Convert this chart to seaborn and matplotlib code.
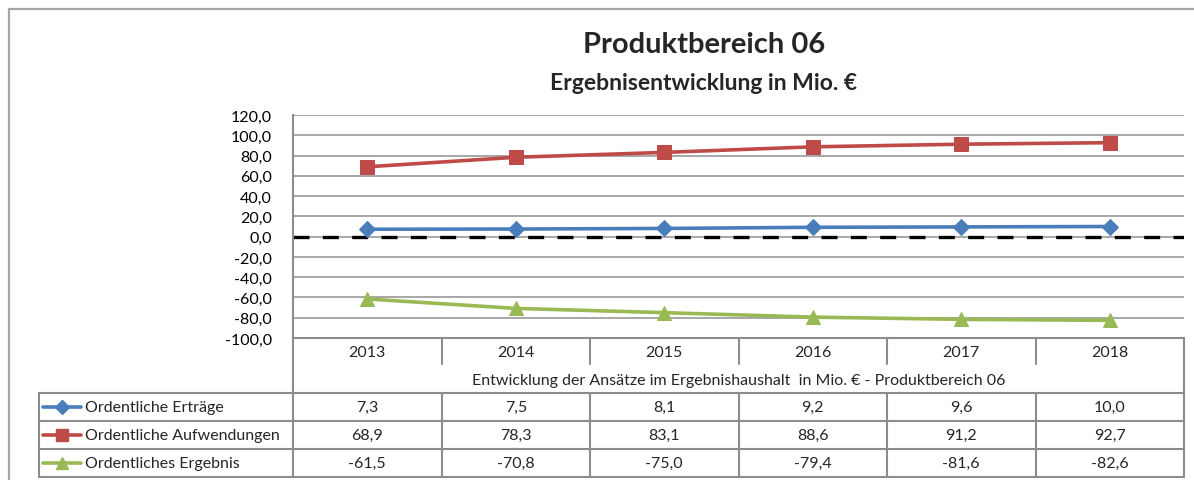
import matplotlib
matplotlib.use("Agg")
import matplotlib.pyplot as plt
import seaborn as sns
import pandas as pd
from matplotlib.ticker import FuncFormatter, MultipleLocator

years = ["2013", "2014", "2015", "2016", "2017", "2018"]
seriesNames = ["Ordentliche Erträge", "Ordentliche Aufwendungen", "Ordentliches Ergebnis"]
ertraege = [7.3, 7.5, 8.1, 9.2, 9.6, 10.0]
aufwendungen = [68.9, 78.3, 83.1, 88.6, 91.2, 92.7]
ergebnis = [-61.5, -70.8, -75.0, -79.4, -81.6, -82.6]

title = "Produktbereich 06"
subtitle = "Ergebnisentwicklung in Mio. €"
tableCaption = "Entwicklung der Ansätze im Ergebnishaushalt  in Mio. € - Produktbereich 06"

colors = ["#4A7EBB", "#BE4B48", "#98B954"]
markers = ["D", "s", "^"]
markerSizes = [8, 9.5, 10]
gridColor = "#A0A0A0"
lineGray = "#8C8C8C"
smallFont = 11.5

sns.set_style("white")
plt.rcParams["font.family"] = ["Lato", "DejaVu Sans"]

W, H = 1194, 481


def frac(x0, y0, x1, y1):
    return [x0 / W, 1 - y1 / H, (x1 - x0) / W, (y1 - y0) / H]


def fmtComma(v, _pos):
    return f"{v:.1f}".replace(".", ",")


rows = []
for name, vals in zip(seriesNames, [ertraege, aufwendungen, ergebnis]):
    for i, v in enumerate(vals):
        rows.append({"pos": i, "value": v, "series": name})
df = pd.DataFrame(rows)

fig = plt.figure(figsize=(W / 100, H / 100), dpi=100)

plotLeft, plotTop, plotRight, plotBottom = 293, 116, 1184, 339
ax = fig.add_axes(frac(plotLeft, plotTop, plotRight, plotBottom))

ax.axhline(0, color="black", lw=2.4, dashes=(4.8, 4), zorder=2)

for name, col, mk, ms in zip(seriesNames, colors, markers, markerSizes):
    sns.lineplot(
        data=df[df["series"] == name], x="pos", y="value",
        color=col, marker=mk, markersize=ms, markeredgecolor=col,
        lw=2.6, ax=ax, legend=False, zorder=3,
    )

ax.set_xlim(-0.5, len(years) - 0.5)
ax.set_ylim(-100, 120)
ax.yaxis.set_major_locator(MultipleLocator(20))
ax.yaxis.set_major_formatter(FuncFormatter(fmtComma))
ax.set_xticks([])
ax.set_xlabel("")
ax.set_ylabel("")
ax.tick_params(axis="y", labelsize=smallFont, pad=15, length=0, labelcolor="black")
ax.grid(axis="y", color=gridColor, lw=1.3, zorder=0)
ax.set_axisbelow(True)
for side in ["top", "right"]:
    ax.spines[side].set_visible(False)
for side in ["left", "bottom"]:
    ax.spines[side].set_color(lineGray)
    ax.spines[side].set_linewidth(1.5)

# overlay axes in pixel coords for frame, titles and data table
tax2 = fig.add_axes([0, 0, 1, 1], zorder=5)
tax2.set_xlim(0, W)
tax2.set_ylim(H, 0)
tax2.axis("off")
tax2.patch.set_alpha(0)

# outer chart frame
tax2.plot([9, 9], [10, H], color="#A6A6A6", lw=1.6)
tax2.plot([9, W], [10, 10], color="#A6A6A6", lw=1.6)

tax2.text(704, 45, title, ha="center", va="center", fontsize=21, fontweight="bold")
tax2.text(703, 84, subtitle, ha="center", va="center", fontsize=16.5, fontweight="bold")

colW = (plotRight - plotLeft) / len(years)
yearBottom = 365
rowEdges = [394, 422, 450, 478]
legendLeft = 39
lw = 1.5

# year row
for i, y in enumerate(years):
    tax2.text(plotLeft + colW * (i + 0.5), 353, y, ha="center", va="center", fontsize=smallFont)
for i in range(1, len(years)):
    xx = plotLeft + colW * i
    tax2.plot([xx, xx], [plotBottom, yearBottom], color=lineGray, lw=lw)
tax2.plot([plotLeft, plotLeft], [plotBottom, rowEdges[-1]], color=lineGray, lw=lw)
tax2.plot([plotRight, plotRight], [plotBottom, rowEdges[-1]], color=lineGray, lw=lw)
tax2.text((plotLeft + plotRight) / 2, 381, tableCaption, ha="center", va="center", fontsize=smallFont)

# data rows
for yy in rowEdges:
    tax2.plot([legendLeft, plotRight], [yy, yy], color=lineGray, lw=lw)
tax2.plot([legendLeft, legendLeft], [rowEdges[0], rowEdges[-1]], color=lineGray, lw=lw)
for i in range(1, len(years)):
    xx = plotLeft + colW * i
    tax2.plot([xx, xx], [rowEdges[0], rowEdges[-1]], color=lineGray, lw=lw)

for r, (name, vals, col, mk, ms) in enumerate(zip(seriesNames, [ertraege, aufwendungen, ergebnis], colors, markers, markerSizes)):
    yc = (rowEdges[r] + rowEdges[r + 1]) / 2
    tax2.plot([43, 81], [yc, yc], color=col, lw=2.6, solid_capstyle="round")
    tax2.plot([62], [yc], marker=mk, color=col, markersize=ms * 0.85, markeredgecolor=col)
    tax2.text(85, yc, name, ha="left", va="center", fontsize=smallFont)
    for i, v in enumerate(vals):
        tax2.text(plotLeft + colW * (i + 0.5), yc, fmtComma(v, None), ha="center", va="center", fontsize=smallFont)

fig.savefig("out.png", dpi=100)
